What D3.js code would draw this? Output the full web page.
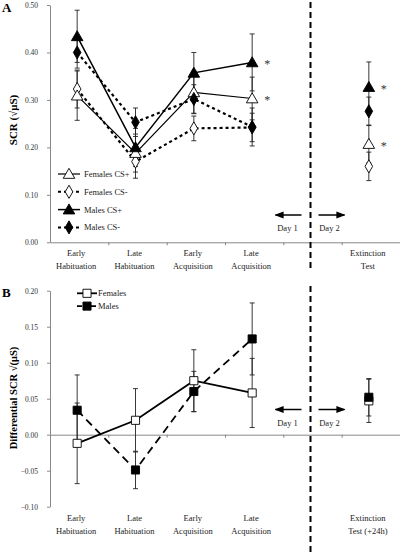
<!DOCTYPE html>
<html><head><meta charset="utf-8">
<script src="https://cdn.jsdelivr.net/npm/d3@7"></script>
<style>body{margin:0;background:#fff}svg{display:block;font-family:"Liberation Serif","Times New Roman",serif}</style>
</head><body><svg id="c" width="400" height="552"></svg>
<script>
const categories = ["Early|Habituation","Late|Habituation","Early|Acquisition","Late|Acquisition","","Extinction|Test"];
const categoriesB = ["Early|Habituation","Late|Habituation","Early|Acquisition","Late|Acquisition","","Extinction|Test (+24h)"];
// Panel A: SCR values, null = no point
const femCSplus  = [0.309,0.188,0.316,0.303,null,0.207];
const femCSplusE = [0.052,0.040,0.045,0.045,null,0.040];
const femCSminus = [0.323,0.170,0.240,0.242,null,0.160];
const femCSminusE= [0.040,0.035,0.026,0.030,null,0.030];
const maleCSplus = [0.434,0.200,0.357,0.379,null,0.327];
const maleCSplusE= [0.055,0.040,0.043,0.060,null,0.053];
const maleCSminus= [0.400,0.253,0.302,0.243,null,0.276];
const maleCSminusE=[0.033,0.030,0.030,0.040,null,0.030];
const ticksA = [0,0.1,0.2,0.3,0.4,0.5];
// Panel B: differential SCR
const femDiff  = [-0.012,0.020,0.075,0.058,null,0.047];
const femDiffE = [0.056,0.044,0.043,0.048,null,0.030];
const maleDiff = [0.034,-0.049,0.060,0.133,null,0.052];
const maleDiffE= [0.049,0.026,0.028,0.050,null,0.026];
const ticksB = [-0.10,-0.05,0,0.05,0.10,0.15,0.20];

const svg = d3.select("#c");
const idx = d3.range(6);
const x = d3.scaleBand().domain(idx).range([50,400]).paddingInner(0).paddingOuter(0);
const cx = i => x(i) + x.bandwidth()/2 - 2;
const yA = d3.scaleLinear().domain([0,0.5]).range([242.3,5]);
const yB = d3.scaleLinear().domain([-0.1,0.2]).range([506.7,290.7]);
const axisCol = "#888";

function drawAxes(y, ticks, zeroY, yTop, yBot, cats, labelY){
  const ya = svg.append("g").attr("transform","translate(50,0)")
    .call(d3.axisLeft(y).tickValues(ticks).tickFormat(d3.format(".2f")).tickSize(3).tickSizeOuter(0));
  ya.select(".domain").attr("stroke",axisCol);
  ya.selectAll(".tick line").attr("stroke",axisCol);
  ya.selectAll(".tick text").attr("font-size",7.5).attr("fill","#333").attr("x",-12)
    .attr("font-family","Liberation Serif, serif");
  const xa = svg.append("g").attr("transform",`translate(0,${zeroY})`)
    .call(d3.axisBottom(d3.scaleLinear().domain([50,400]).range([50,400]))
      .tickValues(idx.map(i=>x(i)+x.bandwidth())).tickFormat("").tickSize(3).tickSizeOuter(0));
  xa.select(".domain").attr("stroke",axisCol);
  xa.selectAll(".tick line").attr("stroke",axisCol);
  idx.forEach(i=>{
    if(!cats[i]) return;
    const parts = cats[i].split("|");
    const t = svg.append("text").attr("text-anchor","middle").attr("font-size",8.5).attr("fill","#222");
    parts.forEach((p,k)=>t.append("tspan").attr("x",cx(i)-1).attr("y",labelY+k*12.5).text(p));
  });
}

function errBars(y, vals, errs){
  vals.forEach((v,i)=>{
    if(v==null) return;
    const e = errs[i];
    svg.append("line").attr("x1",cx(i)).attr("x2",cx(i)).attr("y1",y(v-e)).attr("y2",y(v+e)).attr("stroke","#222").attr("stroke-width",0.9);
    [v-e,v+e].forEach(w=>svg.append("line").attr("x1",cx(i)-2.5).attr("x2",cx(i)+2.5).attr("y1",y(w)).attr("y2",y(w)).attr("stroke","#222").attr("stroke-width",0.9));
  });
}
function seriesLine(y, vals, style){
  const pts = vals.slice(0,4).map((v,i)=>[cx(i),y(v)]);
  const p = svg.append("path").attr("d",d3.line()(pts)).attr("fill","none").attr("stroke","#000")
    .attr("stroke-width",style.w);
  if(style.dash) p.attr("stroke-dasharray",style.dash);
}
function marker(g, px, py, type, filled){
  const sym = {tri:d3.symbolTriangle, dia:d3.symbolDiamond, sq:d3.symbolSquare}[type];
  const size = {tri:58, dia:50, sq:66}[type];
  g.append("path").attr("d",d3.symbol().type(sym).size(size)())
    .attr("transform",`translate(${px},${py + (type==="tri"?1:0)})`)
    .attr("fill",filled?"#000":"#fff").attr("stroke","#000").attr("stroke-width",0.9);
}
function markers(y, vals, type, filled){
  vals.forEach((v,i)=>{ if(v!=null) marker(svg, cx(i), y(v), type, filled); });
}

// ---------- Panel A ----------
drawAxes(yA, ticksA, yA(0), 5, 242.3, categories, 256);
[femCSplus,femCSminus,maleCSplus,maleCSminus].forEach((s,k)=>errBars(yA,s,[femCSplusE,femCSminusE,maleCSplusE,maleCSminusE][k]));
seriesLine(yA, femCSminus, {w:2.2, dash:"3,3"});
seriesLine(yA, maleCSminus, {w:2.2, dash:"3,3"});
seriesLine(yA, femCSplus, {w:1.2});
seriesLine(yA, maleCSplus, {w:1.5});
markers(yA, femCSminus, "dia", false);
markers(yA, femCSplus, "tri", false);
markers(yA, maleCSminus, "dia", true);
markers(yA, maleCSplus, "tri", true);
[[3,maleCSplus],[3,femCSplus],[5,maleCSplus],[5,femCSplus]].forEach(([i,s])=>{
  svg.append("text").attr("x",cx(i)+15).attr("y",yA(s[i])+6).attr("font-size",12).attr("fill","#333").attr("text-anchor","middle").text("*");
});
const legA = [["Females CS+","tri",false,null,1.2],["Females CS-","dia",false,"3,3",2],["Males CS+","tri",true,null,1.5],["Males CS-","dia",true,"3,3",2]];
legA.forEach((d,k)=>{
  const ly = 174 + k*17.8;
  const l = svg.append("line").attr("x1",58).attr("x2",80).attr("y1",ly).attr("y2",ly).attr("stroke","#000").attr("stroke-width",d[4]);
  if(d[3]) l.attr("stroke-dasharray",d[3]);
  marker(svg, 69, ly, d[1], d[2]);
  svg.append("text").attr("x",84).attr("y",ly+3).attr("font-size",8.5).attr("fill","#222").text(d[0]);
});
svg.append("text").attr("x",2).attr("y",12).attr("font-size",13).attr("font-weight","bold").text("A");
svg.append("text").attr("transform","translate(17,120) rotate(-90)").attr("text-anchor","middle")
  .attr("font-size",11).attr("font-weight","bold").text("SCR (√μS)");

// ---------- Panel B ----------
drawAxes(yB, ticksB, yB(0), 290.7, 506.7, categoriesB, 521);
errBars(yB, femDiff, femDiffE);
errBars(yB, maleDiff, maleDiffE);
seriesLine(yB, maleDiff, {w:1.8, dash:"8,5"});
seriesLine(yB, femDiff, {w:1.8});
markers(yB, femDiff, "sq", false);
markers(yB, maleDiff, "sq", true);
const legB = [["Females",false,null],["Males",true,"5,2"]];
legB.forEach((d,k)=>{
  const ly = 293.3 + k*12.8;
  const l = svg.append("line").attr("x1",77).attr("x2",97).attr("y1",ly).attr("y2",ly).attr("stroke","#000").attr("stroke-width",1.8);
  if(d[2]) l.attr("stroke-dasharray",d[2]);
  marker(svg, 87, ly, "sq", d[1]);
  svg.append("text").attr("x",98).attr("y",ly+3).attr("font-size",8.5).attr("fill","#222").text(d[0]);
});
svg.append("text").attr("x",2).attr("y",297).attr("font-size",13).attr("font-weight","bold").text("B");
svg.append("text").attr("transform","translate(17,398) rotate(-90)").attr("text-anchor","middle")
  .attr("font-size",10.5).attr("font-weight","bold").text("Differential SCR √(μS)");

// ---------- Day divider & arrows ----------
const divX = cx(4);
svg.append("line").attr("x1",divX).attr("x2",divX).attr("y1",2).attr("y2",270).attr("stroke","#000").attr("stroke-width",2).attr("stroke-dasharray","6,4");
svg.append("line").attr("x1",divX).attr("x2",divX).attr("y1",286).attr("y2",552).attr("stroke","#000").attr("stroke-width",2).attr("stroke-dasharray","6,4");
svg.append("defs").append("marker").attr("id","ah").attr("viewBox","0 0 10 10").attr("refX",9).attr("refY",5)
  .attr("markerWidth",6).attr("markerHeight",6).attr("orient","auto-start-reverse")
  .append("path").attr("d","M0,1L10,5L0,9Z").attr("fill","#000");
function dayArrows(ay){
  svg.append("line").attr("x1",divX-9).attr("x2",divX-35).attr("y1",ay).attr("y2",ay).attr("stroke","#000").attr("stroke-width",1.5).attr("marker-end","url(#ah)");
  svg.append("line").attr("x1",divX+8).attr("x2",divX+34).attr("y1",ay).attr("y2",ay).attr("stroke","#000").attr("stroke-width",1.5).attr("marker-end","url(#ah)");
  svg.append("text").attr("x",divX-23).attr("y",ay+16).attr("text-anchor","middle").attr("font-size",8.5).attr("fill","#222").text("Day 1");
  svg.append("text").attr("x",divX+19).attr("y",ay+16).attr("text-anchor","middle").attr("font-size",8.5).attr("fill","#222").text("Day 2");
}
dayArrows(215);
dayArrows(409.5);
</script></body></html>
